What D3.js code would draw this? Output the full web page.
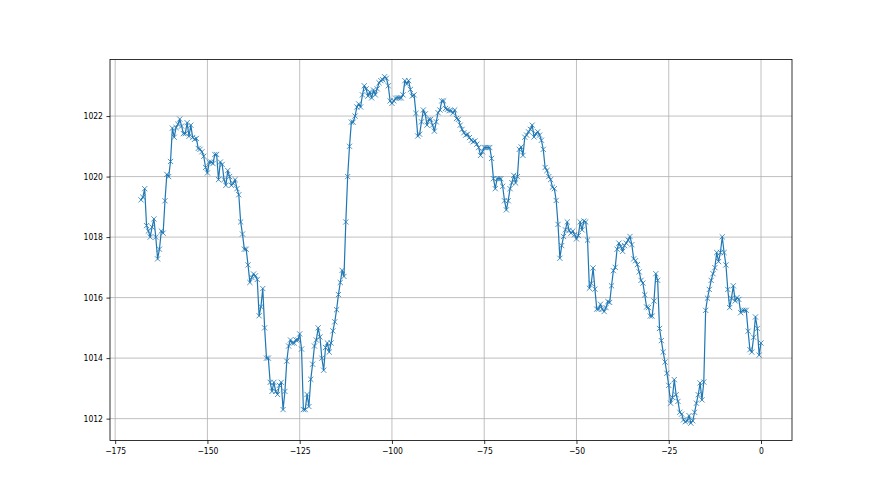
<!DOCTYPE html>
<html>
<head>
<meta charset="utf-8">
<script src="https://cdn.jsdelivr.net/npm/d3@7"></script>
<style>
  body { margin: 0; background: #fff; }
  text { font-family: "DejaVu Sans Condensed", "DejaVu Sans", sans-serif; font-stretch: condensed; }
</style>
</head>
<body>
<div id="chart"></div>
<script>
// time axis: half-hour readings from -168 h up to 0
var startHour = -168;
var stepHour = 0.5;

// pressure readings (hPa)
var pressure = [
  1019.23, 1019.32, 1019.6, 1018.38, 1018.2, 1018.0, 1018.33, 1018.6, 1018.0, 1017.28,
  1017.6, 1018.2, 1018.13, 1019.2, 1020.07, 1020.0, 1020.5, 1021.6, 1021.3, 1021.62,
  1021.73, 1021.9, 1021.67, 1021.42, 1021.42, 1021.78, 1021.33, 1021.7, 1021.29, 1021.23,
  1021.26, 1020.93, 1020.9, 1020.82, 1020.67, 1020.3, 1020.12, 1020.48, 1020.48, 1020.43,
  1020.73, 1020.73, 1019.9, 1020.48, 1020.4, 1019.9, 1019.71, 1020.2, 1020.0, 1019.71,
  1019.77, 1019.9, 1019.6, 1019.4, 1018.5, 1018.1, 1017.6, 1017.6, 1017.08, 1016.5,
  1016.67, 1016.78, 1016.72, 1016.6, 1015.4, 1015.7, 1016.3, 1015.0, 1014.0, 1014.0,
  1013.2, 1012.9, 1013.2, 1012.9, 1012.8, 1013.1, 1013.2, 1012.3, 1012.9, 1013.9,
  1014.4, 1014.6, 1014.5, 1014.5, 1014.6, 1014.6, 1014.8, 1014.3, 1012.3, 1012.3,
  1012.8, 1012.4, 1013.3, 1013.8, 1014.4, 1014.6, 1015.0, 1014.7, 1014.0, 1013.6,
  1014.35, 1014.5, 1014.2, 1014.5, 1014.9, 1015.2, 1015.6, 1016.1, 1016.5, 1016.9,
  1016.7, 1018.5, 1020.0, 1021.0, 1021.8, 1021.8, 1022.0, 1022.3, 1022.4, 1022.3,
  1022.7, 1023.0, 1022.9, 1022.66, 1022.8, 1022.6, 1022.86, 1022.7, 1022.9, 1023.1,
  1023.17, 1023.2, 1023.3, 1023.25, 1023.0, 1022.5, 1022.42, 1022.5, 1022.59, 1022.6,
  1022.6, 1022.6, 1022.7, 1023.17, 1023.06, 1023.17, 1022.88, 1022.66, 1022.7, 1022.09,
  1021.34, 1021.4, 1021.81, 1022.2, 1022.07, 1021.7, 1021.89, 1021.89, 1021.7, 1021.5,
  1021.81, 1022.11, 1022.2, 1022.5, 1022.5, 1022.25, 1022.22, 1022.18, 1022.18, 1022.1,
  1022.2, 1021.92, 1021.89, 1021.7, 1021.56, 1021.45, 1021.37, 1021.4, 1021.29, 1021.2,
  1021.15, 1021.18, 1021.07, 1020.96, 1020.7, 1020.82, 1020.96, 1020.96, 1020.96, 1020.96,
  1020.6, 1019.93, 1019.6, 1019.93, 1019.93, 1019.93, 1019.68, 1019.2, 1018.9, 1019.2,
  1019.6, 1019.8, 1020.04, 1019.79, 1020.0, 1020.9, 1020.98, 1020.7, 1021.3, 1021.37,
  1021.48, 1021.56, 1021.7, 1021.31, 1021.42, 1021.48, 1021.37, 1021.2, 1020.9, 1020.3,
  1020.2, 1020.0, 1019.9, 1019.65, 1019.6, 1019.21, 1018.42, 1017.3, 1017.72, 1018.02,
  1018.24, 1018.5, 1018.22, 1018.13, 1018.2, 1018.08, 1017.94, 1018.05, 1018.5, 1018.24,
  1018.53, 1018.5, 1017.9, 1016.31, 1016.47, 1016.98, 1016.28, 1015.62, 1015.62, 1015.78,
  1015.62, 1015.54, 1015.67, 1015.87, 1015.84, 1016.39, 1016.89, 1017.0, 1017.6, 1017.8,
  1017.69, 1017.53, 1017.72, 1017.8, 1017.9, 1018.02, 1017.75, 1017.28, 1017.22, 1017.09,
  1016.85, 1016.57, 1016.48, 1016.09, 1015.69, 1015.67, 1015.39, 1015.39, 1015.89, 1016.79,
  1016.57, 1014.98, 1014.58, 1014.2, 1013.87, 1013.5, 1013.1, 1012.51, 1012.7, 1013.29,
  1012.79, 1012.57, 1012.21, 1012.15, 1011.96, 1011.9, 1011.93, 1012.1, 1011.85, 1011.93,
  1012.21, 1012.51, 1012.79, 1013.18, 1012.62, 1013.21, 1015.58, 1015.98, 1016.27, 1016.57,
  1016.79, 1016.99, 1017.49, 1017.19, 1017.49, 1018.01, 1017.49, 1017.08, 1016.27, 1015.67,
  1015.98, 1016.39, 1015.89, 1016.0, 1015.94, 1015.5, 1015.58, 1015.58, 1015.58, 1014.89,
  1014.28, 1014.2, 1014.69, 1015.36, 1014.98, 1014.1, 1014.5
];

var xTicks = [-175, -150, -125, -100, -75, -50, -25, 0];
var yTicks = [1012, 1014, 1016, 1018, 1020, 1022];

var data = pressure.map(function(p, i) {
  return { hour: startHour + i * stepHour, value: p };
});

var svgWidth = 880;
var svgHeight = 495;

// same box as a default matplotlib subplot
var margin = { top: 59.4, right: 88, bottom: 54.5, left: 110 };
var width = svgWidth - margin.left - margin.right;
var height = svgHeight - margin.top - margin.bottom;

var svg = d3.select("#chart").append("svg")
  .attr("width", svgWidth)
  .attr("height", svgHeight);

var chartGroup = svg.append("g")
  .attr("transform", `translate(${margin.left}, ${margin.top})`);

// 5% padding on both ends, like matplotlib autoscale
function padded(ext) {
  var pad = (ext[1] - ext[0]) * 0.05;
  return [ext[0] - pad, ext[1] + pad];
}

var xScale = d3.scaleLinear()
  .domain(padded(d3.extent(data, d => d.hour)))
  .range([0, width]);

var yScale = d3.scaleLinear()
  .domain(padded(d3.extent(data, d => d.value)))
  .range([height, 0]);

// grid
chartGroup.append("g")
  .selectAll("line.vgrid")
  .data(xTicks)
  .enter().append("line")
  .attr("x1", d => xScale(d)).attr("x2", d => xScale(d))
  .attr("y1", 0).attr("y2", height)
  .attr("stroke", "#b0b0b0").attr("stroke-width", 0.8);

chartGroup.append("g")
  .selectAll("line.hgrid")
  .data(yTicks)
  .enter().append("line")
  .attr("x1", 0).attr("x2", width)
  .attr("y1", d => yScale(d)).attr("y2", d => yScale(d))
  .attr("stroke", "#b0b0b0").attr("stroke-width", 0.8);

// axes
var fmtX = d => String(d).replace("-", "\u2212");
var fmtY = d3.format("d");

var bottomAxis = d3.axisBottom(xScale)
  .tickValues(xTicks)
  .tickFormat(fmtX)
  .tickSizeInner(3.5).tickSizeOuter(0).tickPadding(3.5);

var leftAxis = d3.axisLeft(yScale)
  .tickValues(yTicks)
  .tickFormat(fmtY)
  .tickSizeInner(3.5).tickSizeOuter(0).tickPadding(3.5);

var gx = chartGroup.append("g")
  .attr("transform", `translate(0, ${height})`)
  .call(bottomAxis);

var gy = chartGroup.append("g")
  .call(leftAxis);

[gx, gy].forEach(function(g) {
  g.select(".domain").remove();
  g.selectAll(".tick line").attr("stroke", "#000").attr("stroke-width", 0.8);
  g.selectAll(".tick text")
    .attr("fill", "#000")
    .style("font-size", "8.5px")
    .style("font-family", "\"DejaVu Sans Condensed\", \"DejaVu Sans\", sans-serif");
});

// frame
chartGroup.append("rect")
  .attr("x", 0).attr("y", 0)
  .attr("width", width).attr("height", height)
  .attr("fill", "none")
  .attr("stroke", "#000")
  .attr("stroke-width", 0.8);

// line
var line = d3.line()
  .x(d => xScale(d.hour))
  .y(d => yScale(d.value));

chartGroup.append("path")
  .datum(data)
  .attr("d", line)
  .attr("fill", "none")
  .attr("stroke", "#1f77b4")
  .attr("stroke-width", 1.2)
  .attr("stroke-linejoin", "round");

// x markers
var m = 2.6;
chartGroup.append("g")
  .selectAll("path.marker")
  .data(data)
  .enter().append("path")
  .attr("d", d => {
    var cx = xScale(d.hour), cy = yScale(d.value);
    return `M${cx - m},${cy - m}L${cx + m},${cy + m}M${cx - m},${cy + m}L${cx + m},${cy - m}`;
  })
  .attr("stroke", "#1f77b4")
  .attr("stroke-width", 0.8)
  .attr("fill", "none");
</script>
</body>
</html>
